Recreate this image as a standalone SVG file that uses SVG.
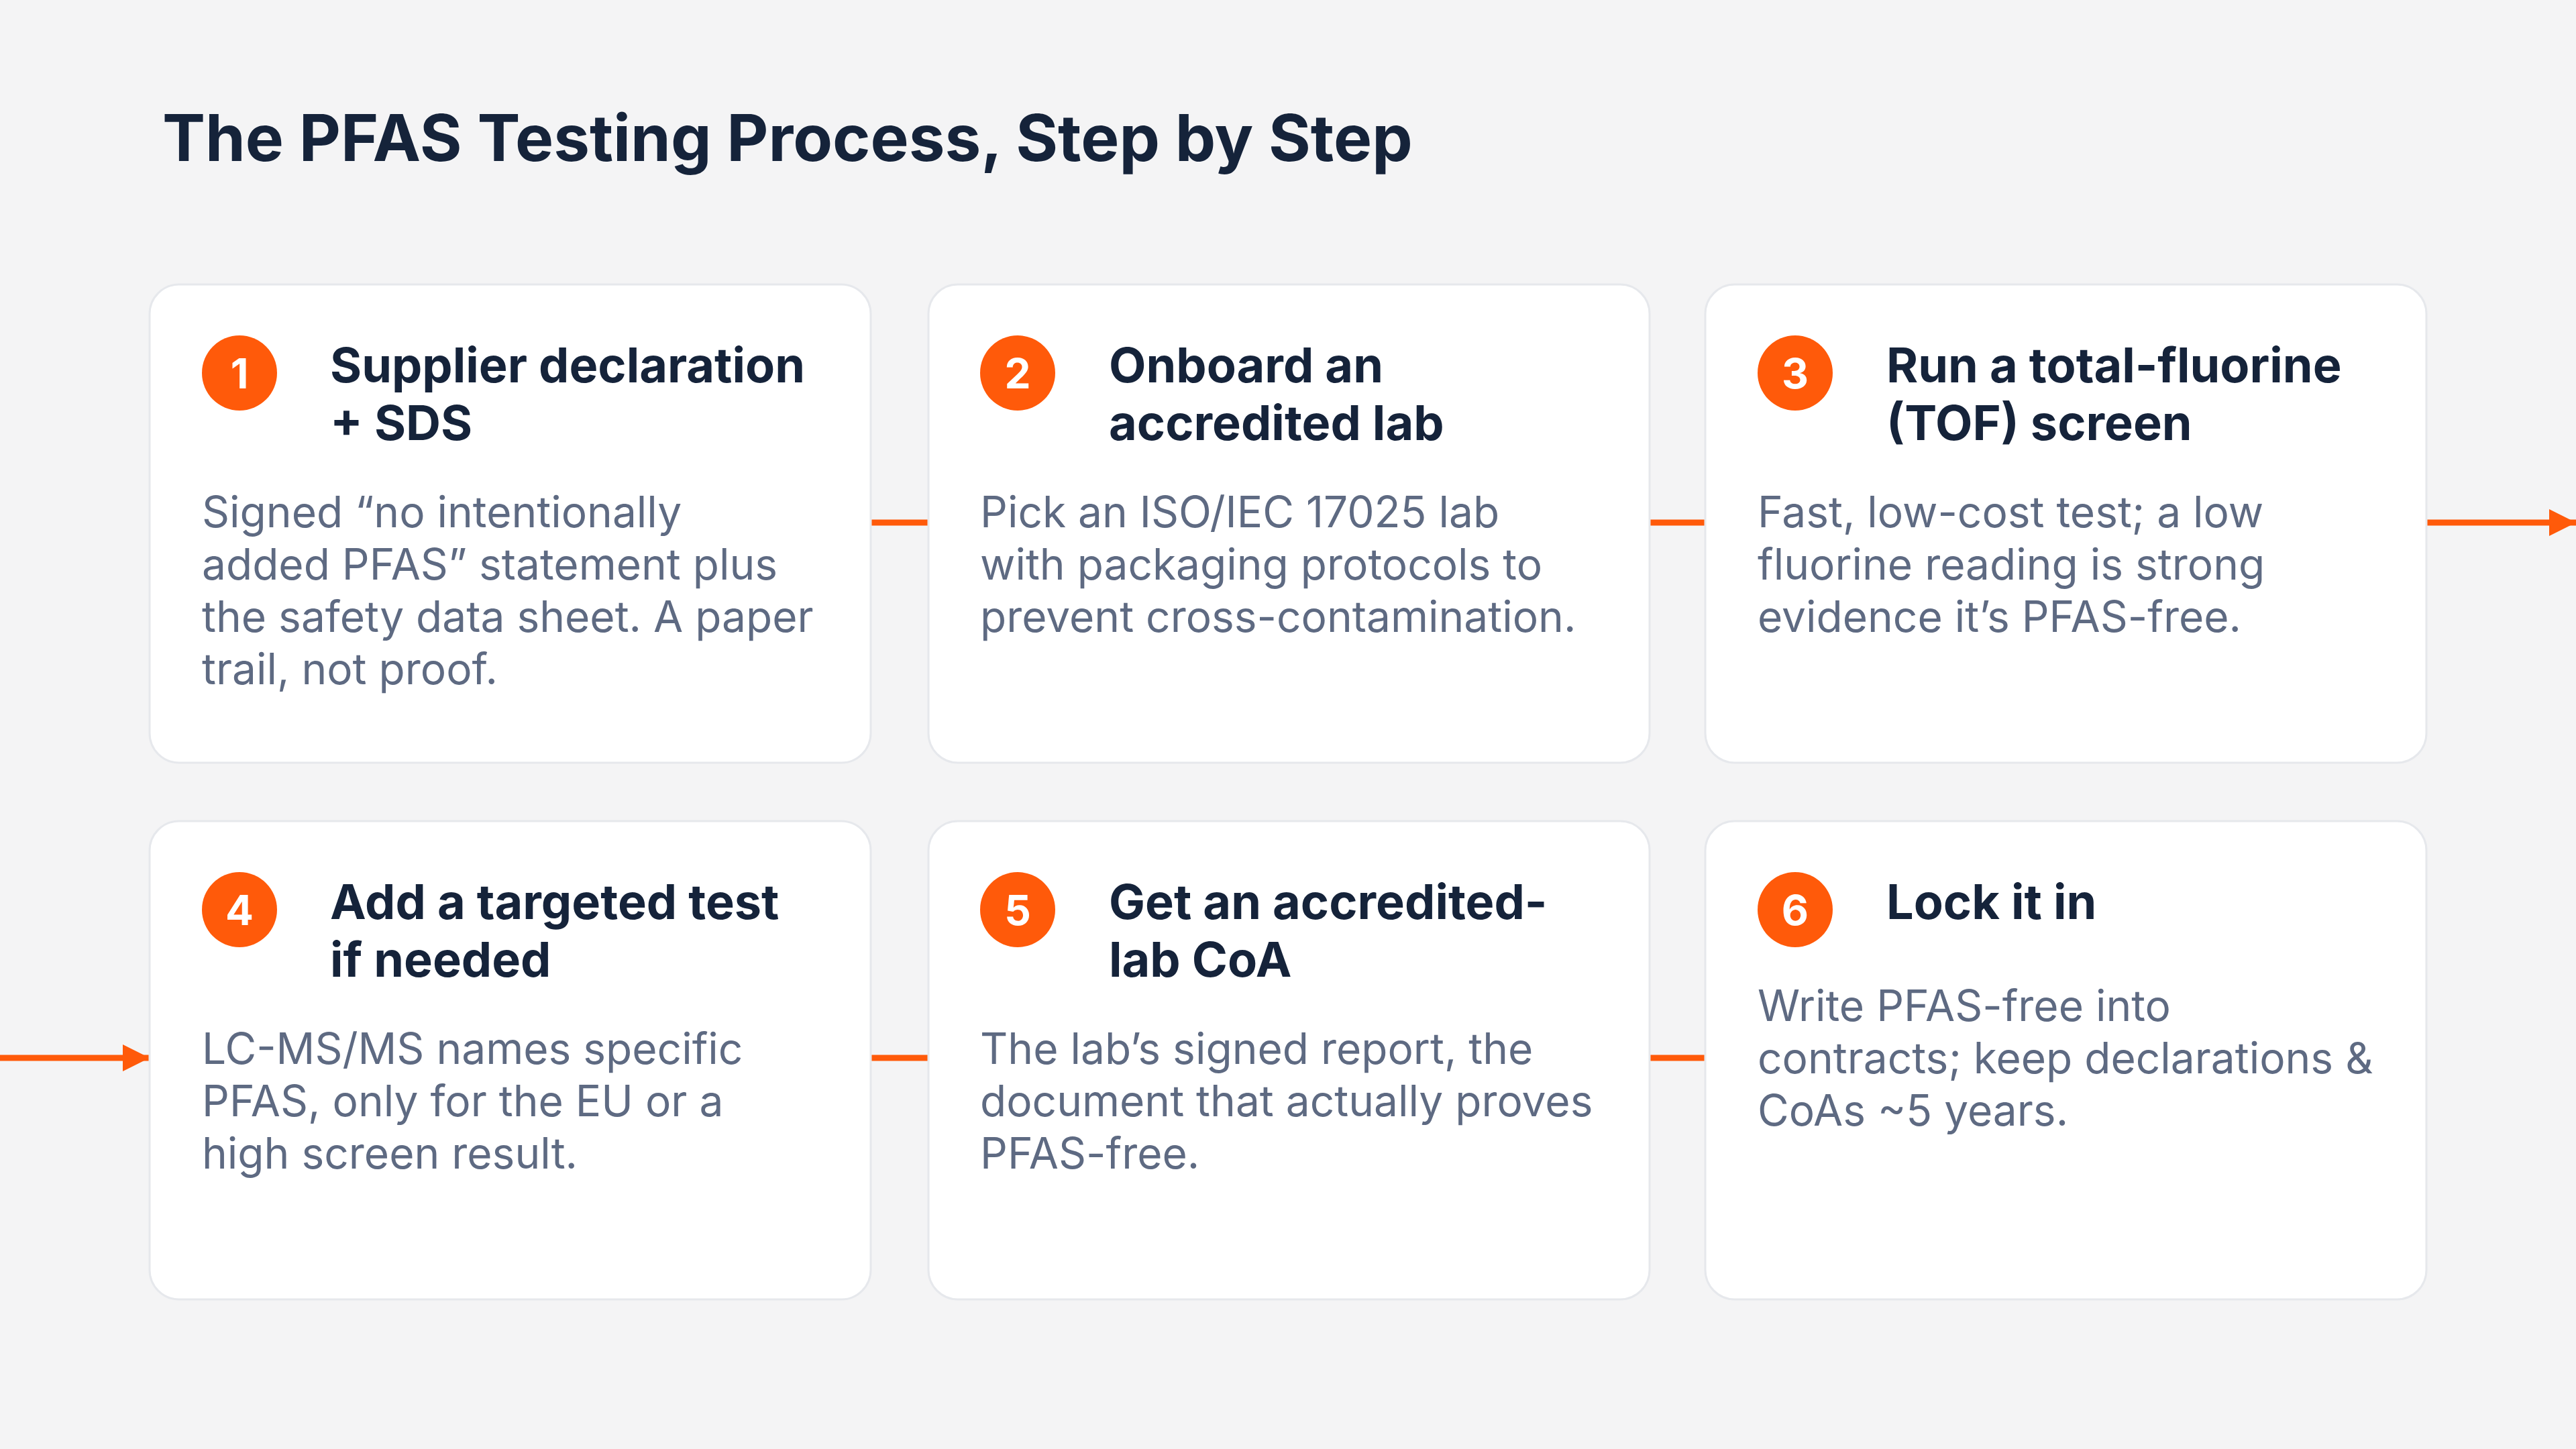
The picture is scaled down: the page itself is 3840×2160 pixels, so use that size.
<svg xmlns="http://www.w3.org/2000/svg" width="3840" height="2160" viewBox="0 0 3840 2160">
<style>
.card{fill:#fff;stroke:#e6e8ec;stroke-width:3}
.badge{fill:#ff5a0a}
.num{fill:#fff;font-family:Inter,"Liberation Sans",sans-serif;font-weight:700;font-size:62px;text-anchor:middle}
.t{fill:#15233a;font-family:Inter,"Liberation Sans",sans-serif;font-weight:700;font-size:72px}
.b{fill:#5e6a82;font-family:Inter,"Liberation Sans",sans-serif;font-size:64px}
.c{stroke:#ff5a0a;stroke-width:9;fill:none}
</style>
<defs><marker id="ah" markerWidth="10" markerHeight="10" refX="9" refY="5" orient="auto" markerUnits="userSpaceOnUse" viewBox="0 0 10 10"><path d="M0,0 L10,5 L0,10 z" fill="#ff5a0a"/></marker>
<marker id="a" viewBox="0 0 10 10" refX="10" refY="5" markerWidth="40" markerHeight="46" markerUnits="userSpaceOnUse" orient="auto"><path d="M0,0 L10,5 L0,10 z" fill="#ff5a0a"/></marker></defs>
<rect width="3840" height="2160" fill="#f4f4f5"/>
<text x="242" y="240" fill="#15233a" font-family="Inter,'Liberation Sans',sans-serif" font-weight="700" font-size="96">The PFAS Testing Process, Step by Step</text>
<g id="connectors">
<line class="c" x1="1298" y1="779" x2="1384" y2="779"/>
<line class="c" x1="2459" y1="779" x2="2542" y2="779"/>
<line class="c" x1="3617" y1="779" x2="3840" y2="779" marker-end="url(#a)"/>
<line class="c" x1="0" y1="1577" x2="223" y2="1577" marker-end="url(#a)"/>
<line class="c" x1="1298" y1="1577" x2="1384" y2="1577"/>
<line class="c" x1="2459" y1="1577" x2="2542" y2="1577"/>
</g>
<g id="step1"><rect class="card" x="223" y="424" width="1075" height="713" rx="44"/><circle class="badge" cx="357" cy="556" r="56"/><text class="num" x="357" y="579">1</text>
<text class="t" x="492" y="570">Supplier declaration</text><text class="t" x="492" y="656">+ SDS</text>
<text class="b" x="301" y="786">Signed “no intentionally</text><text class="b" x="301" y="864">added PFAS” statement plus</text><text class="b" x="301" y="942">the safety data sheet. A paper</text><text class="b" x="301" y="1020">trail, not proof.</text></g>
<g id="step2"><rect class="card" x="1384" y="424" width="1075" height="713" rx="44"/><circle class="badge" cx="1517" cy="556" r="56"/><text class="num" x="1517" y="579">2</text>
<text class="t" x="1653" y="570">Onboard an</text><text class="t" x="1653" y="656">accredited lab</text>
<text class="b" x="1461" y="786">Pick an ISO/IEC 17025 lab</text><text class="b" x="1461" y="864">with packaging protocols to</text><text class="b" x="1461" y="942">prevent cross-contamination.</text></g>
<g id="step3"><rect class="card" x="2542" y="424" width="1075" height="713" rx="44"/><circle class="badge" cx="2676" cy="556" r="56"/><text class="num" x="2676" y="579">3</text>
<text class="t" x="2812" y="570">Run a total-fluorine</text><text class="t" x="2812" y="656">(TOF) screen</text>
<text class="b" x="2620" y="786">Fast, low-cost test; a low</text><text class="b" x="2620" y="864">fluorine reading is strong</text><text class="b" x="2620" y="942">evidence it’s PFAS-free.</text></g>
<g id="step4"><rect class="card" x="223" y="1224" width="1075" height="713" rx="44"/><circle class="badge" cx="357" cy="1356" r="56"/><text class="num" x="357" y="1379">4</text>
<text class="t" x="492" y="1370">Add a targeted test</text><text class="t" x="492" y="1456">if needed</text>
<text class="b" x="301" y="1586">LC-MS/MS names specific</text><text class="b" x="301" y="1664">PFAS, only for the EU or a</text><text class="b" x="301" y="1742">high screen result.</text></g>
<g id="step5"><rect class="card" x="1384" y="1224" width="1075" height="713" rx="44"/><circle class="badge" cx="1517" cy="1356" r="56"/><text class="num" x="1517" y="1379">5</text>
<text class="t" x="1653" y="1370">Get an accredited-</text><text class="t" x="1653" y="1456">lab CoA</text>
<text class="b" x="1461" y="1586">The lab’s signed report, the</text><text class="b" x="1461" y="1664">document that actually proves</text><text class="b" x="1461" y="1742">PFAS-free.</text></g>
<g id="step6"><rect class="card" x="2542" y="1224" width="1075" height="713" rx="44"/><circle class="badge" cx="2676" cy="1356" r="56"/><text class="num" x="2676" y="1379">6</text>
<text class="t" x="2812" y="1370">Lock it in</text>
<text class="b" x="2620" y="1522">Write PFAS-free into</text><text class="b" x="2620" y="1600">contracts; keep declarations &amp;</text><text class="b" x="2620" y="1678">CoAs ~5 years.</text></g>
</svg>
